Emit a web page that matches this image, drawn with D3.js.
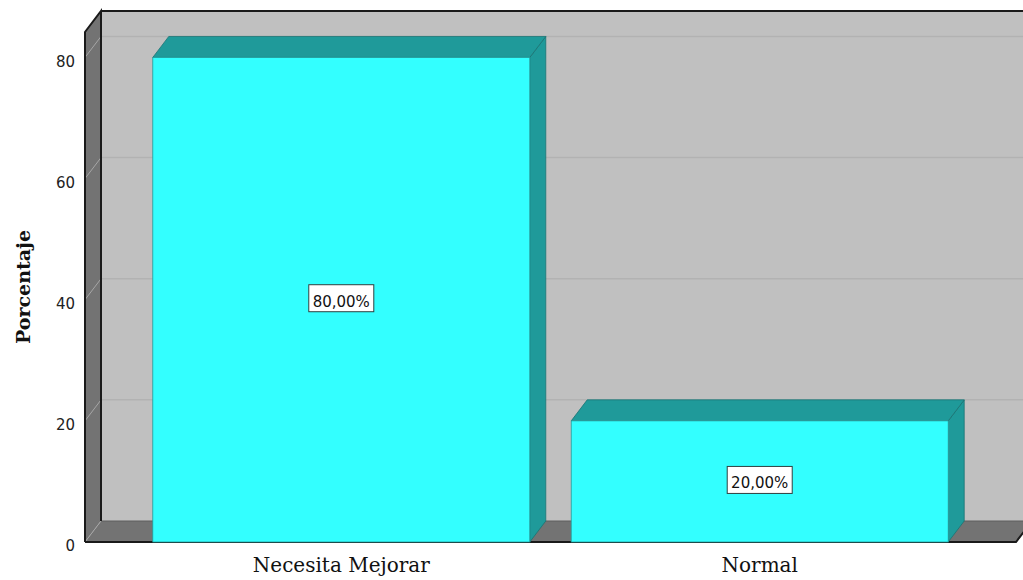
<!DOCTYPE html>
<html>
<head>
<meta charset="utf-8">
<script src="https://cdn.jsdelivr.net/npm/d3@7"></script>
<style>
  html, body { margin: 0; padding: 0; background: #ffffff; }
  svg { display: block; }
</style>
</head>
<body>
<svg id="chart" width="1023" height="580"></svg>
<script>
// ---- data ----
const categories = ["Necesita Mejorar", "Normal"];
const values = [80, 20];
const valueLabels = ["80,00%", "20,00%"];
const yTicks = [0, 20, 40, 60, 80];
const yTitle = "Porcentaje";

// ---- layout ----
const W = 1023, H = 580;
const pLeft = 85, pRight = 1016, pBottom = 542, pTop = 32;
const dx = 16, dy = -21; // 3D depth offset
const svg = d3.select("#chart");

const x = d3.scaleBand().domain(categories).range([pLeft, pRight])
  .paddingInner(0.099).paddingOuter(0.162);
const y = d3.scaleLinear().domain([0, 84.2]).range([pBottom, pTop]);

// back wall
svg.append("rect")
  .attr("x", pLeft + dx).attr("y", pTop + dy)
  .attr("width", pRight - pLeft + 20).attr("height", pBottom - pTop)
  .attr("fill", "#c0c0c0");

// back wall gridlines
svg.append("g").selectAll("line").data(yTicks.filter(d => d > 0)).join("line")
  .attr("x1", pLeft + dx).attr("x2", W + 20)
  .attr("y1", d => y(d) + dy).attr("y2", d => y(d) + dy)
  .attr("stroke", "#b2b2b2").attr("stroke-width", 1.5);

// floor
svg.append("path")
  .attr("d", `M${pLeft},${pBottom}L${pLeft+dx},${pBottom+dy}L${pRight+dx},${pBottom+dy}L${pRight},${pBottom}Z`)
  .attr("fill", "#737373");
svg.append("line")
  .attr("x1", pLeft + dx).attr("x2", pRight + dx)
  .attr("y1", pBottom + dy).attr("y2", pBottom + dy)
  .attr("stroke", "#5e5e5e").attr("stroke-width", 1);

// left wall
svg.append("path")
  .attr("d", `M${pLeft},${pTop}L${pLeft+dx},${pTop+dy}L${pLeft+dx},${pBottom+dy}L${pLeft},${pBottom}Z`)
  .attr("fill", "#737373");

// wall gridlines (diagonals)
svg.append("g").selectAll("line").data(yTicks).join("line")
  .attr("x1", pLeft).attr("x2", pLeft + dx)
  .attr("y1", d => y(d)).attr("y2", d => y(d) + dy)
  .attr("stroke", "#a6a6a6").attr("stroke-width", 1);

// outlines
const blk = svg.append("g").attr("fill", "none").attr("stroke", "#1a1a1a").attr("stroke-width", 2);
blk.append("path")
  .attr("d", `M${pLeft},${pBottom}L${pLeft},${pTop}L${pLeft+dx},${pTop+dy}L${pLeft+dx},${pBottom+dy}`);
blk.append("line").attr("x1", pLeft + dx).attr("x2", W + 20)
  .attr("y1", pTop + dy).attr("y2", pTop + dy);
blk.append("path")
  .attr("d", `M${pLeft},${pBottom}L${pRight},${pBottom}L${pRight+dx},${pBottom+dy}`);

// bars
const bars = svg.append("g");
const bw = x.bandwidth();
categories.forEach((c, i) => {
  const x0 = x(c), x1 = x0 + bw, yv = y(values[i]), y0 = y(0);
  const g = bars.append("g");
  g.append("path")
    .attr("d", `M${x1},${yv}L${x1+dx},${yv+dy}L${x1+dx},${y0+dy}L${x1},${y0}Z`)
    .attr("fill", "#1f9a9a").attr("stroke", "#1b7474").attr("stroke-width", 0.8);
  g.append("path")
    .attr("d", `M${x0},${yv}L${x0+dx},${yv+dy}L${x1+dx},${yv+dy}L${x1},${yv}Z`)
    .attr("fill", "#1f9a9a").attr("stroke", "#1b7474").attr("stroke-width", 0.8);
  g.append("rect")
    .attr("x", x0).attr("y", yv).attr("width", bw).attr("height", y0 - yv)
    .attr("fill", "#33ffff").attr("stroke", "#239a9a").attr("stroke-width", 0.8);
});

// value labels
categories.forEach((c, i) => {
  const cx = x(c) + bw / 2;
  const cy = y(values[i] / 2);
  const g = svg.append("g");
  const bwid = 65, bh = 27;
  g.append("rect")
    .attr("x", cx - bwid / 2).attr("y", cy - 15).attr("width", bwid).attr("height", bh)
    .attr("fill", "#ffffff").attr("stroke", "#2f3f3f").attr("stroke-width", 1);
  g.append("text")
    .attr("x", cx).attr("y", cy + 7)
    .attr("text-anchor", "middle")
    .attr("font-family", "DejaVu Sans, sans-serif").attr("font-size", 15)
    .attr("fill", "#111").text(valueLabels[i]);
});

// y axis
const yAxis = d3.axisLeft(y).tickValues(yTicks).tickSize(0).tickPadding(10).tickFormat(d3.format("d"));
const ga = svg.append("g").attr("transform", `translate(${pLeft},0)`).call(yAxis);
ga.select(".domain").remove();
ga.selectAll("text")
  .attr("font-family", "DejaVu Sans, sans-serif").attr("font-size", 15)
  .attr("fill", "#222").attr("dy", "0.72em").attr("y", -2);

// x axis labels
const xAxis = d3.axisBottom(x).tickSize(0).tickPadding(0);
const gx = svg.append("g").attr("transform", `translate(0,${pBottom})`).call(xAxis);
gx.select(".domain").remove();
gx.selectAll("text")
  .attr("font-family", "DejaVu Serif, serif").attr("font-size", 20)
  .attr("fill", "#111").attr("dy", null).attr("y", 30);

// y title
svg.append("text")
  .attr("transform", `translate(30,${(pTop + pBottom) / 2}) rotate(-90)`)
  .attr("text-anchor", "middle")
  .attr("font-family", "DejaVu Serif, serif").attr("font-weight", "bold").attr("font-size", 19)
  .attr("fill", "#111").text(yTitle);
</script>
</body>
</html>
